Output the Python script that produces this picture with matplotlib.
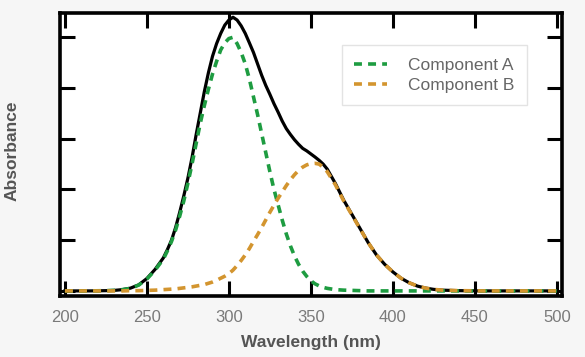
import matplotlib
matplotlib.use("Agg")
import matplotlib.pyplot as plt

plt.rcParams['font.family'] = ['Liberation Sans', 'DejaVu Sans']

# wavelength grid (nm) and absorbance values
wavelength = [200, 215, 225, 230, 235, 240, 245, 250, 255, 260,
              262.5, 265, 267.5, 270, 272.5, 275, 277.5, 280, 282.5, 285,
              287.5, 290, 292.5, 295, 297.5, 300, 302.5, 305, 307.5, 310,
              312.5, 315, 317.5, 320, 322.5, 325, 327.5, 330, 332.5, 335,
              337.5, 340, 342.5, 345, 347.5, 350, 352.5, 355, 357.5, 360,
              365, 370, 375, 380, 385, 390, 395, 400, 405, 410,
              415, 420, 425, 430, 440, 455, 470, 485, 500]

comp_a = [0, 0, 0.001, 0.002, 0.005, 0.010, 0.023, 0.047, 0.082, 0.125,
          0.158, 0.195, 0.240, 0.295, 0.355, 0.425, 0.500, 0.580, 0.660, 0.730,
          0.795, 0.855, 0.905, 0.950, 0.978, 0.995, 1.000, 0.975, 0.940, 0.895,
          0.835, 0.765, 0.695, 0.620, 0.545, 0.470, 0.400, 0.340, 0.280, 0.225,
          0.178, 0.138, 0.105, 0.078, 0.057, 0.040, 0.028, 0.020, 0.014, 0.010,
          0.005, 0.003, 0.002, 0.001, 0, 0, 0, 0, 0, 0,
          0, 0, 0, 0, 0, 0, 0, 0, 0]

comp_b = [0, 0, 0, 0, 0, 0.001, 0.001, 0.002, 0.003, 0.005,
          0.006, 0.007, 0.008, 0.010, 0.012, 0.014, 0.016, 0.019, 0.022, 0.025,
          0.030, 0.035, 0.042, 0.050, 0.058, 0.068, 0.082, 0.100, 0.120, 0.142,
          0.167, 0.195, 0.222, 0.250, 0.280, 0.310, 0.338, 0.365, 0.390, 0.415,
          0.438, 0.458, 0.475, 0.488, 0.497, 0.502, 0.503, 0.500, 0.488, 0.470,
          0.418, 0.355, 0.300, 0.245, 0.190, 0.142, 0.105, 0.075, 0.050, 0.032,
          0.019, 0.011, 0.006, 0.003, 0.001, 0, 0, 0, 0]

total = [0, 0, 0.001, 0.002, 0.005, 0.011, 0.024, 0.049, 0.085, 0.130,
         0.163, 0.200, 0.250, 0.310, 0.375, 0.445, 0.525, 0.615, 0.700, 0.785,
         0.860, 0.925, 0.975, 1.015, 1.048, 1.068, 1.079, 1.068, 1.045, 1.015,
         0.978, 0.940, 0.895, 0.850, 0.810, 0.775, 0.738, 0.705, 0.670, 0.640,
         0.617, 0.596, 0.578, 0.562, 0.552, 0.540, 0.528, 0.515, 0.500, 0.480,
         0.423, 0.358, 0.302, 0.246, 0.190, 0.142, 0.105, 0.075, 0.050, 0.032,
         0.019, 0.011, 0.006, 0.003, 0.001, 0, 0, 0, 0]

xticks = [200, 250, 300, 350, 400, 450, 500]
yticks = [0, 0.2, 0.4, 0.6, 0.8, 1.0]

green = '#1e9c41'
orange = '#d3952f'

fig = plt.figure(figsize=(5.85, 3.57), dpi=100, facecolor='#f6f6f6')
ax = fig.add_axes([0.1026, 0.1695, 0.8576, 0.795])
ax.set_facecolor('white')

ax.plot(wavelength, total, color='black', lw=2.3, solid_joinstyle='round')
ax.plot(wavelength, comp_a, color=green, lw=2.6, dashes=(2.2, 1.7), label='Component A')
ax.plot(wavelength, comp_b, color=orange, lw=2.6, dashes=(2.2, 1.7), label='Component B')

ax.set_xlim(197, 503)
ax.set_ylim(-0.022, 1.097)
ax.set_xticks(xticks)
ax.set_yticks(yticks)
ax.set_yticklabels([])
ax.tick_params(direction='in', length=10.5, width=2.2, top=True, right=True,
               labelsize=12, labelcolor='#7a7a7a', pad=10, color='black')
for s in ax.spines.values():
    s.set_linewidth(2.6)
    s.set_color('black')

fig.text(311 / 585, 1 - 343 / 357, 'Wavelength (nm)', ha='center', va='center',
         fontsize=12.5, fontweight='bold', color='#555555')
fig.text(12 / 585, 1 - 151 / 357, 'Absorbance', ha='center', va='center',
         rotation=90, fontsize=12.5, fontweight='bold', color='#555555')

leg = ax.legend(loc='upper left', bbox_to_anchor=(0.562, 0.886), fontsize=12.5,
                frameon=True, fancybox=False, framealpha=1, edgecolor='#e3e3e3',
                handlelength=1.9, handletextpad=1.2, borderpad=0.72,
                labelspacing=0.28, borderaxespad=0)
leg.get_frame().set_linewidth(1.0)
for t in leg.get_texts():
    t.set_color('#666666')

fig.savefig('out.png', dpi=100, facecolor=fig.get_facecolor())
